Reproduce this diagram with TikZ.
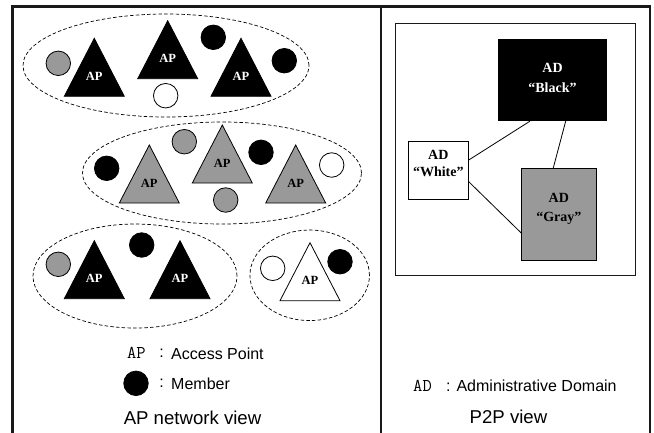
\documentclass[tikz,border=0pt]{standalone}
\usepackage{fontspec}
\setmainfont{Liberation Serif}
\setsansfont{Liberation Sans}
\usetikzlibrary{shapes.geometric}

\definecolor{midgray}{RGB}{153,153,153}
\definecolor{framegray}{RGB}{25,25,25}

% access point: triangle with its apex at (x,y) and an "AP" label
\newcommand{\aptri}[5]{% name, x, apex y, fill, label colour
  \draw[tri, fill=#4] (#2,#3) -- ++(-30,58) -- ++(60,0) -- cycle;
  \node[aplabel, text=#5] (#1) at (#2,#3+38) {AP};
}

\begin{document}
\begin{tikzpicture}[x=1pt,y=-1pt,
  tri/.style={draw=black, line width=0.8pt, line join=miter},
  aplabel/.style={inner sep=0pt, font=\fontsize{12.5}{14}\selectfont\bfseries},
  member/.style={circle, draw=black, line width=0.8pt, minimum size=24.5pt, inner sep=0pt},
  groupring/.style={ellipse, draw=black, line width=0.7pt, dash pattern=on 3.5pt off 2.2pt, inner sep=0pt},
  adbox/.style={rectangle, draw=black, line width=0.9pt, inner sep=0pt},
  adlabel/.style={align=center, inner sep=0pt},
  adlink/.style={draw=black, line width=0.8pt},
  legtext/.style={inner sep=0pt, font=\sffamily\fontsize{16}{18}\selectfont},
  legcode/.style={inner sep=0pt, font=\ttfamily\fontsize{18}{20}\selectfont},
  viewcaption/.style={inner sep=0pt, font=\sffamily\fontsize{18.6}{20}\selectfont},
  outerline/.style={draw=framegray, line width=2.8pt}
]
\useasboundingbox (0,0) rectangle (654,432);
\clip (0,0) rectangle (654,432);

% outer frame and divider
\draw[outerline] (12.5,440) -- (12.5,6.5) -- (650,6.5) -- (650,440);
\draw[outerline, line width=2.4pt] (381,6.5) -- (381,440);

% ---------------- AP network view ----------------
\node[groupring, minimum width=286pt, minimum height=103pt] (g1) at (166,65.5) {};
\node[groupring, minimum width=279pt, minimum height=102pt] (g2) at (222,173) {};
\node[groupring, minimum width=204pt, minimum height=104pt] (g3) at (135,276) {};
\node[groupring, minimum width=119.5pt, minimum height=90.5pt] (g4) at (309.7,275.3) {};

% group 1
\aptri{a11}{94.3}{38.3}{black}{white}
\aptri{a12}{167.7}{20.7}{black}{white}
\aptri{a13}{241}{38.3}{black}{white}
\node[member, fill=midgray] (m11) at (58.3,63.3) {};
\node[member, fill=black] (m12) at (213.3,37.3) {};
\node[member, fill=black] (m13) at (284.3,60.7) {};
\node[member, fill=white] (m14) at (165.7,95.7) {};

% group 2
\aptri{a21}{149.3}{145}{midgray}{black}
\aptri{a22}{222.3}{125}{midgray}{black}
\aptri{a23}{295.7}{145}{midgray}{black}
\node[member, fill=black] (m21) at (106.7,168.3) {};
\node[member, fill=midgray] (m22) at (184.3,141.7) {};
\node[member, fill=black] (m23) at (261,152.3) {};
\node[member, fill=white] (m24) at (331.7,165) {};
\node[member, fill=midgray] (m25) at (225.7,200) {};

% group 3
\aptri{a31}{94.3}{240.7}{black}{white}
\aptri{a32}{180}{240.7}{black}{white}
\node[member, fill=midgray] (m31) at (58.3,264.3) {};
\node[member, fill=black] (m32) at (141.7,245) {};

% group 4
\aptri{a41}{310}{242.7}{white}{black}
\node[member, fill=white] (m41) at (272.7,268.3) {};
\node[member, fill=black] (m42) at (340,261.7) {};

% legend
\node[legcode] (lk1) at (136.3,353.3) {AP};
\node[legtext] (lc1) at (161.5,353.3) {:};
\node[legtext, anchor=west] (lt1) at (171,353.3) {Access Point};
\node[member, fill=black] (lm) at (136,383.3) {};
\node[legtext] (lc2) at (161.5,383.3) {:};
\node[legtext, anchor=west] (lt2) at (171,383.3) {Member};
\node[viewcaption] (cap1) at (192.5,418.3) {AP network view};

% ---------------- P2P view ----------------
\draw[draw=framegray, line width=1pt] (395.7,23.7) rectangle (635,275);

\node[adbox, fill=black, minimum width=108.4pt, minimum height=81.4pt] (B) at (552.5,80) {};
\node[adbox, fill=white, minimum width=60pt, minimum height=57.6pt] (W) at (438.3,170.5) {};
\node[adbox, fill=midgray, minimum width=74.3pt, minimum height=91.7pt] (G) at (558.85,214.15) {};

\node[adlabel, text=white, font=\bfseries\fontsize{14}{20.5}\selectfont] (Bt) at (552.5,77.8) {AD\\“Black”};
\node[adlabel, font=\bfseries\fontsize{14}{16.5}\selectfont] (Wt) at (438.3,163.3) {AD\\“White”};
\node[adlabel, font=\bfseries\fontsize{14}{18.5}\selectfont] (Gt) at (558.85,209) {AD\\“Gray”};

\draw[adlink] ([yshift=10.5pt]W.east) -- ([xshift=-22.5pt]B.south);
\draw[adlink] ([yshift=-11.2pt]W.east) -- ([yshift=-18.85pt]G.west);
\draw[adlink] ([xshift=13.2pt]B.south) -- ([xshift=-5.55pt]G.north);

\node[legcode] (lk3) at (422.5,386) {AD};
\node[legtext, anchor=west] (lt3) at (446,386) {: Administrative Domain};
\node[viewcaption] (cap2) at (508.5,416.7) {P2P view};
\end{tikzpicture}
\end{document}
